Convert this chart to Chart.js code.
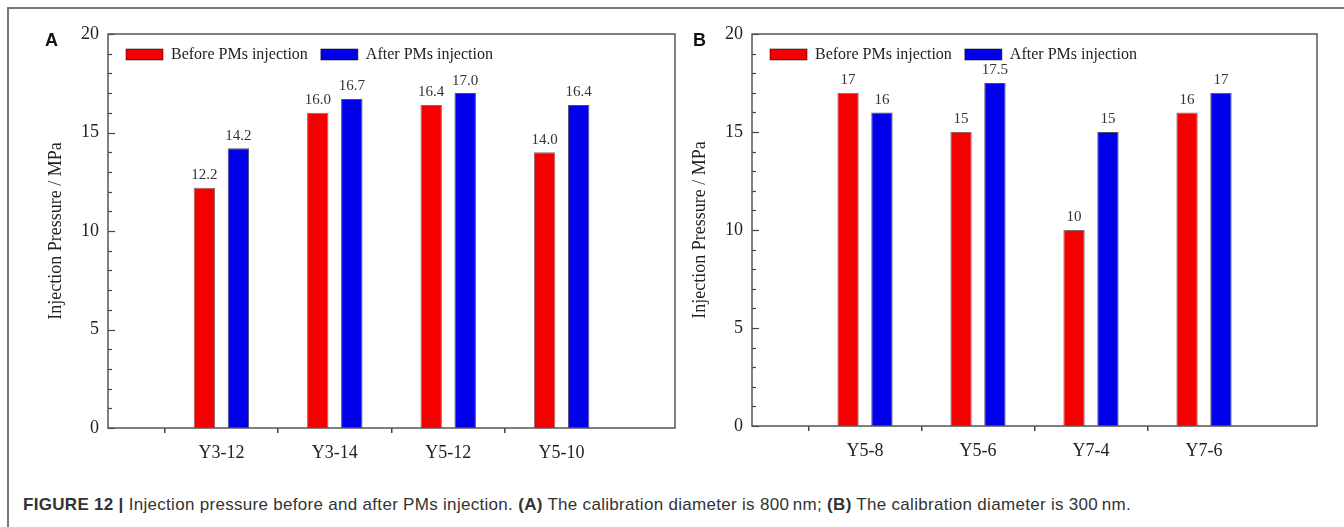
<!DOCTYPE html>
<html>
<head>
<meta charset="utf-8">
<script src="https://cdn.jsdelivr.net/npm/chart.js@4.4.0/dist/chart.umd.min.js"></script>
<style>
  body { margin: 0; background: #fff; width: 1344px; height: 527px; overflow: hidden; position: relative; font-family: "Liberation Sans", Arial, sans-serif; }
  #frame { position: absolute; left: 7px; top: 7px; right: 0; bottom: 0; border-top: 2px solid #777; border-left: 2px solid #777; }
  .wrap { position: absolute; top: 0; height: 470px; }
  .tag { position: absolute; top: 30px; font: bold 18px "Liberation Sans", Arial, sans-serif; color: #111; }
  #cap { position: absolute; left: 23px; top: 495px; font-size: 17px; letter-spacing: 0.3px; color: #333; white-space: nowrap; }
</style>
</head>
<body>
<div id="frame"></div>
<div class="wrap" style="left:0;width:690px"><canvas id="chartA" width="690" height="470"></canvas></div>
<div class="wrap" style="left:644px;width:690px"><canvas id="chartB" width="690" height="470"></canvas></div>
<div class="tag" style="left:45px">A</div>
<div class="tag" style="left:693px">B</div>
<div id="cap"><b>FIGURE 12 |</b> Injection pressure before and after PMs injection. <b>(A)</b> The calibration diameter is 800&#8201;nm; <b>(B)</b> The calibration diameter is 300&#8201;nm.</div>

<script>
// panel A (800 nm)
const catsA = ['Y3-12', 'Y3-14', 'Y5-12', 'Y5-10'];
const beforeA = [12.2, 16.0, 16.4, 14.0];
const afterA = [14.2, 16.7, 17.0, 16.4];

// panel B (300 nm)
const catsB = ['Y5-8', 'Y5-6', 'Y7-4', 'Y7-6'];
const beforeB = [17, 15, 10, 16];
const afterB = [16, 17.5, 15, 17];

const seriesNames = ['Before PMs injection', 'After PMs injection'];
const yMin = 0, yMax = 20, yStep = 5;
const yTitle = 'Injection Pressure / MPa';

const RED = 'rgb(245,0,0)';
const BLUE = 'rgb(0,0,235)';
const SERIF = '"Liberation Serif", "Times New Roman", serif';
const INK = '#222';

// empty slot on each side so the four groups sit at 1/5 .. 4/5 of the axis
const pad = arr => [null, ...arr, null];

const decor = {
  id: 'decor',
  afterDatasetsDraw(chart, args, opts) {
    const ctx = chart.ctx;
    const a = chart.chartArea;
    const y = chart.scales.y;
    ctx.save();

    // inward y ticks, minor every 1
    ctx.strokeStyle = '#444';
    ctx.lineWidth = 1.2;
    for (let v = yMin; v <= yMax; v++) {
      const py = Math.round(y.getPixelForValue(v)) + 0.5;
      const len = v % yStep === 0 ? 7 : 4;
      ctx.beginPath();
      ctx.moveTo(a.left, py);
      ctx.lineTo(a.left + len, py);
      ctx.stroke();
    }

    // plot box
    ctx.strokeStyle = '#555';
    ctx.lineWidth = 1.5;
    ctx.strokeRect(a.left, a.top, a.right - a.left, a.bottom - a.top);

    // value labels
    ctx.fillStyle = '#333';
    ctx.font = '15px ' + SERIF;
    ctx.textAlign = 'center';
    ctx.textBaseline = 'bottom';
    chart.data.datasets.forEach((ds, i) => {
      chart.getDatasetMeta(i).data.forEach((bar, j) => {
        const v = ds.data[j];
        if (v == null) return;
        const txt = opts.decimals == null ? String(v) : v.toFixed(opts.decimals);
        ctx.fillText(txt, bar.x, bar.y - 5);
      });
    });

    // legend inside plot
    let lx = a.left + 18;
    const ly = a.top + 15;
    ctx.font = '16px ' + SERIF;
    ctx.textAlign = 'left';
    ctx.textBaseline = 'middle';
    chart.data.datasets.forEach(ds => {
      ctx.fillStyle = ds.backgroundColor;
      ctx.fillRect(lx, ly, 37, 11);
      ctx.strokeStyle = 'rgba(0,0,0,0.5)';
      ctx.lineWidth = 1;
      ctx.strokeRect(lx, ly, 37, 11);
      ctx.fillStyle = INK;
      ctx.fillText(ds.label, lx + 45, ly + 6);
      lx += 45 + ctx.measureText(ds.label).width + 13;
    });

    ctx.restore();
  }
};

function makeChart(id, cats, before, after, decimals, padRight, xHeight) {
  const ctx = document.getElementById(id).getContext('2d');
  return new Chart(ctx, {
    type: 'bar',
    data: {
      labels: pad(cats).map(c => c || ''),
      datasets: [
        { label: seriesNames[0], data: pad(before), backgroundColor: RED, borderColor: 'rgba(60,0,0,0.6)', borderWidth: 1 },
        { label: seriesNames[1], data: pad(after), backgroundColor: BLUE, borderColor: 'rgba(0,0,40,0.7)', borderWidth: 1 }
      ]
    },
    options: {
      responsive: false,
      animation: false,
      layout: { padding: { left: 0, right: padRight, top: 34, bottom: 0 } },
      datasets: { bar: { categoryPercentage: 0.6, barPercentage: 0.63 } },
      scales: {
        x: {
          type: 'category',
          offset: false,
          border: { display: false },
          grid: {
            drawOnChartArea: false,
            drawTicks: true,
            tickLength: 5,
            lineWidth: 1.5,
            color: c => (c.index > 0 && c.index <= cats.length) ? '#444' : 'rgba(0,0,0,0)'
          },
          ticks: { autoSkip: false, maxRotation: 0, padding: 9, color: INK, font: { family: SERIF, size: 18 } },
          afterFit: s => { s.height = xHeight; }
        },
        y: {
          min: yMin,
          max: yMax,
          border: { display: false },
          grid: { display: false, drawTicks: false },
          ticks: { stepSize: yStep, padding: 9, color: INK, font: { family: SERIF, size: 18 } },
          title: { display: true, text: yTitle, color: INK, font: { family: SERIF, size: 18 }, padding: { top: 45, bottom: 0 } },
          afterFit: s => { s.width = 108; }
        }
      },
      plugins: {
        legend: { display: false },
        tooltip: { enabled: false },
        decor: { decimals: decimals }
      }
    },
    plugins: [decor]
  });
}

makeChart('chartA', catsA, beforeA, afterA, 1, 15, 42);
makeChart('chartB', catsB, beforeB, afterB, null, 17, 44);
</script>
</body>
</html>
